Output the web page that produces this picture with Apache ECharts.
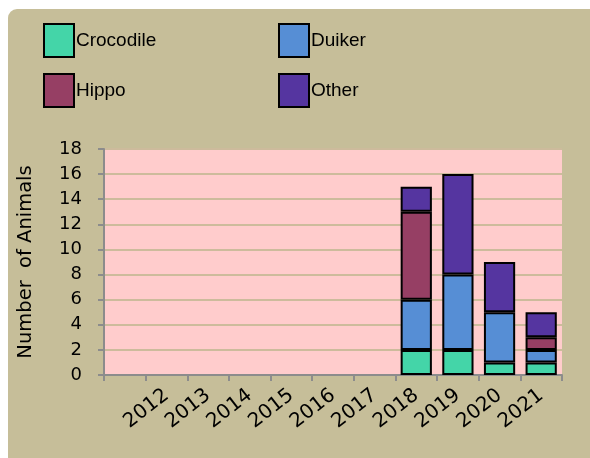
<!DOCTYPE html>
<html>
<head>
<meta charset="utf-8">
<script src="https://cdn.jsdelivr.net/npm/echarts@6/dist/echarts.min.js"></script>
<style>
html,body{margin:0;padding:0;background:#ffffff;}
#chart{width:590px;height:458px;}
</style>
</head>
<body>
<div id="chart"></div>
<script>
const years = ['', '2012', '2013', '2014', '2015', '2016', '2017', '2018', '2019', '2020', '2021'];
const crocodile = [0, 0, 0, 0, 0, 0, 0, 2, 2, 1, 1];
const duiker    = [0, 0, 0, 0, 0, 0, 0, 4, 6, 4, 1];
const hippo     = [0, 0, 0, 0, 0, 0, 0, 7, 0, 0, 1];
const other     = [0, 0, 0, 0, 0, 0, 0, 2, 8, 4, 2];
const yTicks = [0, 2, 4, 6, 8, 10, 12, 14, 16, 18];

const colors = {Crocodile:'#44D5A8', Duiker:'#568ED5', Hippo:'#963F64', Other:'#5535A0'};
const legendFont = '"Liberation Sans", sans-serif';

function toData(arr){ return arr.map(v => v === 0 ? '-' : v); }

function mk(name, arr){
  return {
    name: name, type: 'bar', stack: 'total',
    data: toData(arr),
    barCategoryGap: '25%',
    itemStyle: {color: colors[name], borderColor: '#000', borderWidth: 2},
    emphasis: {disabled: true}
  };
}

const chart = echarts.init(document.getElementById('chart'), null, {renderer:'canvas'});
chart.setOption({
  animation: false,
  graphic: [{
    type: 'rect', z: -100, silent: true,
    shape: {x: 8, y: 9, width: 600, height: 470, r: [9, 0, 0, 0]},
    style: {fill: '#C6BE99'}
  }],
  legend: [{
    orient: 'vertical', left: 38, top: 18,
    itemWidth: 30, itemHeight: 33, itemGap: 15,
    icon: 'rect',
    data: ['Crocodile', 'Hippo'],
    textStyle: {fontFamily: legendFont, fontSize: 19, color: '#000', padding: [0,0,0,-3]}
  },{
    orient: 'vertical', left: 273, top: 18,
    itemWidth: 30, itemHeight: 33, itemGap: 15,
    icon: 'rect',
    data: ['Duiker', 'Other'],
    textStyle: {fontFamily: legendFont, fontSize: 19, color: '#000', padding: [0,0,0,-3]}
  }],
  grid: {left: 104, right: 28, top: 149, bottom: 83, show: true, backgroundColor: '#FFCCCC', borderWidth: 0},
  xAxis: {
    type: 'category', data: years,
    axisLine: {lineStyle: {color: '#8C8C8C', width: 2}},
    axisTick: {show: true, length: 6, lineStyle: {color: '#8C8C8C', width: 2}},
    axisLabel: {rotate: 38, interval: 0, fontFamily: 'DejaVu Sans', fontSize: 20, color: '#000', margin: 18},
    splitLine: {show: false}
  },
  yAxis: {
    type: 'value', min: yTicks[0], max: yTicks[yTicks.length-1], interval: 2,
    name: 'Number  of Animals', nameLocation: 'middle', nameGap: 68,
    nameTextStyle: {fontFamily: 'DejaVu Sans', fontSize: 19.5, color: '#000'},
    axisLine: {show: true, lineStyle: {color: '#8C8C8C', width: 2}},
    axisTick: {show: true, length: 6, lineStyle: {color: '#8C8C8C', width: 2}},
    axisLabel: {fontFamily: 'DejaVu Sans', fontSize: 18, color: '#000', margin: 22},
    splitLine: {lineStyle: {color: '#CDBB9C', width: 2}}
  },
  series: [mk('Crocodile', crocodile), mk('Duiker', duiker), mk('Hippo', hippo), mk('Other', other)]
});
</script>
</body>
</html>
